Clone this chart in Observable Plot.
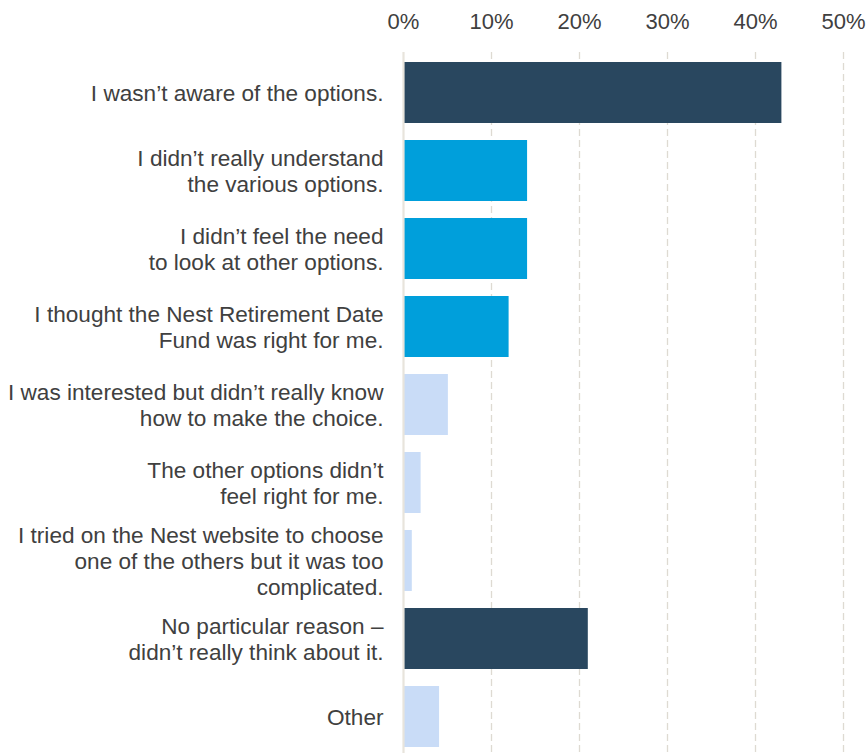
<!DOCTYPE html>
<html>
<head>
<meta charset="utf-8">
<script src="https://cdn.jsdelivr.net/npm/d3@7"></script>
<script src="https://cdn.jsdelivr.net/npm/@observablehq/plot@0.6"></script>
<style>
  html, body { margin: 0; padding: 0; background: #fff; }
  #chart svg { display: block; }
</style>
</head>
<body>
<div id="chart"></div>
<script>
const categories = [
  "I wasn’t aware of the options.",
  "I didn’t really understand\nthe various options.",
  "I didn’t feel the need\nto look at other options.",
  "I thought the Nest Retirement Date\nFund was right for me.",
  "I was interested but didn’t really know\nhow to make the choice.",
  "The other options didn’t\nfeel right for me.",
  "I tried on the Nest website to choose\none of the others but it was too\ncomplicated.",
  "No particular reason –\ndidn’t really think about it.",
  "Other"
];
const values = [43.0, 14.1, 14.1, 12.0, 5.1, 2.0, 1.0, 21.0, 4.1];
const groups = ["dark", "mid", "mid", "mid", "light", "light", "light", "dark", "light"];
const xTicks = [0, 10, 20, 30, 40, 50];

const data = categories.map((c, i) => ({category: c, value: values[i], group: groups[i]}));

const chart = Plot.plot({
  width: 868,
  height: 753,
  marginLeft: 403,
  marginRight: 25,
  marginTop: 56,
  marginBottom: 0,
  style: {fontFamily: "'Liberation Sans', Arial, sans-serif", fontSize: "22px", color: "#404040", background: "#fff"},
  x: {domain: [0, 50], label: null},
  y: {domain: categories, paddingInner: 0.22, paddingOuter: 0.05, label: null},
  color: {domain: ["dark", "mid", "light"], range: ["#29475f", "#009fdb", "#c9dcf7"]},
  marks: [
    Plot.gridX(xTicks.filter(d => d > 0), {stroke: "#dedad2", strokeOpacity: 1, strokeWidth: 1.3, strokeDasharray: "7,4", insetTop: -4}),
    Plot.barX(data, {x: "value", y: "category", fill: "group"}),
    Plot.ruleX([0], {stroke: "#e8e4dc", strokeWidth: 2.2, insetTop: -4}),
    Plot.axisX(xTicks, {anchor: "top", tickSize: 0, tickPadding: 28, tickFormat: d => d + "%", fontSize: 22, fill: "#404040"}),
    Plot.axisY({tickSize: 0, tickPadding: 20, fontSize: 22.6, fill: "#404040", lineHeight: 1.15})
  ]
});
document.getElementById("chart").append(chart);
</script>
</body>
</html>
